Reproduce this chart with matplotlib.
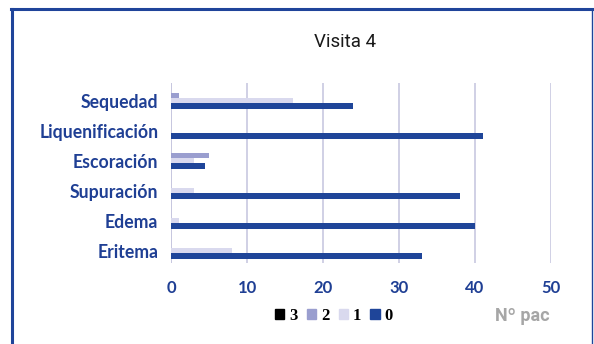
import matplotlib
matplotlib.use('Agg')
import matplotlib.pyplot as plt
import numpy as np
from matplotlib.patches import Patch

categories = ['Eritema', 'Edema', 'Supuración', 'Escoración', 'Liquenificación', 'Sequedad']
grade_0 = [33, 40, 38, 4.5, 41, 24]
grade_1 = [8, 1, 3, 3, 0, 16]
grade_2 = [0, 0, 0, 5, 0, 1]
grade_3 = [0, 0, 0, 0, 0, 0]
series_names = ['3', '2', '1', '0']
xticks = [0, 10, 20, 30, 40, 50]

colors = {'3': '#000000', '2': '#9a9ecf', '1': '#d9d9ee', '0': '#1f4599'}
blue_text = '#1f3f94'

fig = plt.figure(figsize=(5.94, 3.44), dpi=100)
ax = fig.add_axes([171 / 594, 1 - 263 / 344, 380 / 594, 180 / 344])

y = np.arange(len(categories))
h = 0.18
series = {'0': grade_0, '1': grade_1, '2': grade_2, '3': grade_3}
offsets = {'0': -1.5 * h, '1': -0.5 * h, '2': 0.5 * h, '3': 1.5 * h}
for name in ['0', '1', '2', '3']:
    ax.barh(y + offsets[name], series[name], height=h, color=colors[name],
            zorder=3)

ax.set_xlim(0, 50)
ax.set_ylim(-0.5, 5.5)
ax.set_xticks(xticks)
# labels sit a little below the group centre, as in the original
ax.set_yticks(y - 0.09)
ax.set_yticklabels(categories)
for s in ax.spines.values():
    s.set_visible(False)
ax.grid(axis='x', color='#c4c4de', linewidth=1.1, zorder=0)
ax.axvline(0, color='#c4c4de', linewidth=1.1, zorder=1)
ax.tick_params(length=0)
ax.tick_params(axis='y', pad=9)
ax.tick_params(axis='x', pad=12)
for lab in ax.get_yticklabels():
    lab.set_fontfamily('Lato')
    lab.set_fontweight('bold')
    lab.set_fontsize(12.7)
    lab.set_color(blue_text)
for lab in ax.get_xticklabels():
    lab.set_fontfamily('Lato')
    lab.set_fontweight('bold')
    lab.set_fontsize(12)
    lab.set_color(blue_text)

fig.text(345 / 594, 1 - 42 / 344, 'Visita 4', ha='center', va='center',
         fontsize=13.5, family='Roboto', color='#1a1a1a')

handles = [Patch(color=colors[n]) for n in series_names]
fig.legend(handles, series_names, loc='center', ncol=4,
           bbox_to_anchor=(334 / 594, 1 - 316 / 344), frameon=False,
           handlelength=0.55, handleheight=0.55, handletextpad=0.3,
           columnspacing=0.55,
           prop={'family': 'Liberation Serif', 'weight': 'bold', 'size': 12})

fig.text(522 / 594, 1 - 316 / 344, 'Nº pac', ha='center', va='center',
         fontsize=13, family='Roboto', fontweight='bold', color='#a6a6a6')

# outer frame
frame = '#1f449a'
fig.add_artist(plt.Line2D([12 / 594, 12 / 594], [0, 1 - 9 / 344],
                          transform=fig.transFigure, color=frame, lw=2.2))
fig.add_artist(plt.Line2D([11 / 594, 592 / 594], [1 - 9 / 344, 1 - 9 / 344],
                          transform=fig.transFigure, color=frame, lw=2.2))
fig.add_artist(plt.Line2D([592 / 594, 592 / 594], [0, 1 - 9 / 344],
                          transform=fig.transFigure, color=frame, lw=1.0))

fig.savefig('out.png', dpi=100)
